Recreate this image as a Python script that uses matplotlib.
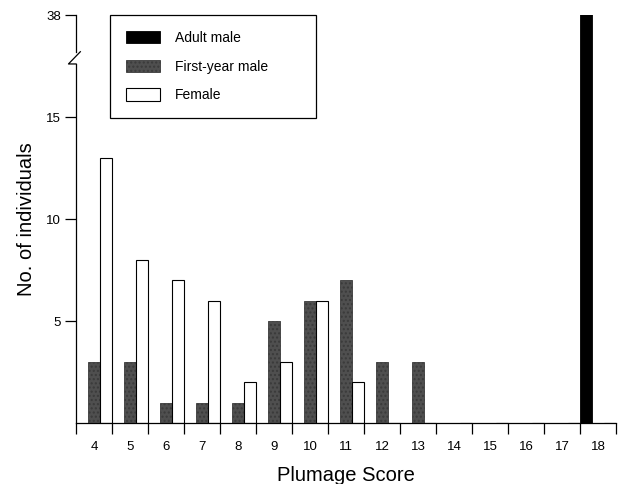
import numpy as np
import matplotlib as mpl
mpl.use('Agg')
import matplotlib.pyplot as plt
import matplotlib.transforms as mtrans

plt.rcParams['font.family'] = ['Liberation Sans', 'DejaVu Sans']
plt.rcParams['hatch.color'] = '#8a8a8a'

# plumage scores and counts per class
scores = [4, 5, 6, 7, 8, 9, 10, 11, 12, 13, 14, 15, 16, 17, 18]
adult_male = [0, 0, 0, 0, 0, 0, 0, 0, 0, 0, 0, 0, 0, 0, 38]
first_year_male = [3, 3, 1, 1, 1, 5, 6, 7, 3, 3, 0, 0, 0, 0, 0]
female = [13, 8, 7, 6, 2, 3, 6, 2, 0, 0, 0, 0, 0, 0, 0]

# broken y axis: the top tick stands for 38
ytick_pos = [5, 10, 15, 20]
ytick_lab = ['5', '10', '15', '38']

fig = plt.figure(figsize=(6.18, 4.84), dpi=100)
ax = fig.add_axes([0.123, 0.126, 0.874, 0.843])

x = np.array(scores, dtype=float)
w = 1.0 / 3
ax.bar(x - w, adult_male, width=w, color='black', edgecolor='black', linewidth=0.6,
       label='Adult male')
ax.bar(x, first_year_male, width=w, color='#4f4f4f', edgecolor='#3a3a3a', linewidth=0.6,
       hatch='....', label='First-year male')
ax.bar(x + w, female, width=w, color='white', edgecolor='black', linewidth=0.8,
       label='Female')

ax.set_xlim(3.5, 18.5)
ax.set_ylim(0, 20)

# ticks at the cell boundaries, labels at the centres
ax.set_xticks(np.arange(3.5, 18.6, 1.0))
ax.set_xticklabels([])
ax.set_xticks(scores, minor=True)
ax.set_xticklabels([str(s) for s in scores], minor=True, fontsize=9.5)
ax.tick_params(axis='x', which='major', direction='out', length=8, width=0.9)
ax.tick_params(axis='x', which='minor', length=0, pad=13)
ax.set_yticks(ytick_pos)
ax.set_yticklabels(ytick_lab, fontsize=9.5)
ax.tick_params(axis='y', direction='out', length=8, width=0.9, pad=3)

for s in ['top', 'right']:
    ax.spines[s].set_visible(False)
ax.spines['left'].set_bounds(0, 17.6)
ax.spines['left'].set_linewidth(0.9)
ax.spines['bottom'].set_linewidth(0.9)

# axis break mark
tr = mtrans.blended_transform_factory(ax.transAxes, ax.transData)
ax.plot([0, 0], [18.2, 20], color='black', lw=0.9, transform=tr, clip_on=False)
ax.plot([0.008, -0.014, 0.0, 0.0], [18.2, 17.6, 17.6, 17.6], color='black', lw=0.9,
        transform=tr, clip_on=False)

ax.set_xlabel('Plumage Score', fontsize=14.5)
ax.xaxis.set_label_coords(0.5, -0.105)
ax.set_ylabel('No. of individuals', fontsize=14.5)
ax.yaxis.set_label_coords(-0.075, 0.5)

leg = ax.legend(loc='upper left', bbox_to_anchor=(0.063, 0.75, 0.381, 0.25), mode='expand',
                borderaxespad=0, fontsize=10, handlelength=2.45, handleheight=1.0,
                handletextpad=1.08, labelspacing=1.05, borderpad=1.15, fancybox=False,
                framealpha=1, edgecolor='black')
leg.get_frame().set_linewidth(0.9)

plt.savefig('out.png', dpi=100)
plt.close()
